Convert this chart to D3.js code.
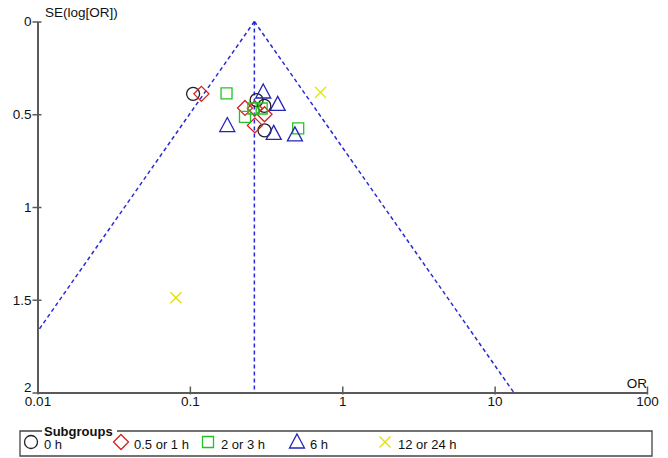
<!DOCTYPE html>
<html>
<head>
<meta charset="utf-8">
<script src="https://cdn.jsdelivr.net/npm/d3@7"></script>
<style>
  html, body { margin: 0; padding: 0; background: #fff; }
  svg { display: block; font-family: "Liberation Sans", Arial, sans-serif; }
</style>
</head>
<body>
<svg id="chart" width="668" height="458"></svg>
<script>
// Funnel plot: odds ratios by subgroup against SE(log[OR])
const pooledOR = 0.265;

const subgroupNames = ["0 h", "0.5 or 1 h", "2 or 3 h", "6 h", "12 or 24 h"];

const orH0   = [0.105, 0.274, 0.308, 0.309];
const seH0   = [0.390, 0.424, 0.455, 0.587];

const orH05  = [0.119, 0.230, 0.267, 0.309, 0.267];
const seH05  = [0.390, 0.466, 0.469, 0.500, 0.560];

const orH2   = [0.174, 0.261, 0.296, 0.230, 0.514];
const seH2   = [0.387, 0.469, 0.469, 0.514, 0.576];

const orH6   = [0.303, 0.377, 0.176, 0.355, 0.489];
const seH6   = [0.380, 0.447, 0.561, 0.603, 0.611];

const orH12  = [0.720, 0.081];
const seH12  = [0.382, 1.489];

const xTickValues = [0.01, 0.1, 1, 10, 100];
const xTickLabels = ["0.01", "0.1", "1", "10", "100"];
const yTickValues = [0, 0.5, 1, 1.5, 2];
const yTickLabels = ["0", "0.5", "1", "1.5", "2"];

const groups = [
  { name: subgroupNames[0], or: orH0,  se: seH0,  shape: "circle",   color: "#222222" },
  { name: subgroupNames[1], or: orH05, se: seH05, shape: "diamond",  color: "#d42020" },
  { name: subgroupNames[2], or: orH2,  se: seH2,  shape: "square",   color: "#22c322" },
  { name: subgroupNames[3], or: orH6,  se: seH6,  shape: "triangle", color: "#2424b8" },
  { name: subgroupNames[4], or: orH12, se: seH12, shape: "cross",    color: "#e0e000" }
];

const svg = d3.select("#chart");

const x = d3.scaleLog().domain([0.01, 100]).range([37.5, 647]);
const y = d3.scaleLinear().domain([0, 2]).range([21.5, 392.5]);

const axisColor = "#5a5a5a";
const fontSize = 13.5;

// marker path generators, centred on 0,0
function markerPath(shape) {
  switch (shape) {
    case "circle":   return "M6.5,0A6.5,6.5 0 1,1 -6.5,0A6.5,6.5 0 1,1 6.5,0Z";
    case "diamond":  return "M0,-7.5L7.5,0L0,7.5L-7.5,0Z";
    case "square":   return "M-5.5,-5.5L5.5,-5.5L5.5,5.5L-5.5,5.5Z";
    case "triangle": return "M0,-8L7.5,6L-7.5,6Z";
    case "cross":    return "M-5.5,-5.5L5.5,5.5M-5.5,5.5L5.5,-5.5";
  }
}

// funnel limits (95%) around the pooled estimate
const z = 1.96;
const seMax = 2;
const leftSE = Math.min(seMax, Math.log(pooledOR / 0.01) / z);
const funnel = svg.append("g")
  .attr("fill", "none")
  .attr("stroke", "#2a2ad8")
  .attr("stroke-width", 1.5)
  .attr("stroke-dasharray", "4,3");

const line = d3.line().x(d => x(d[0])).y(d => y(d[1]));
funnel.append("path").attr("d", line([[pooledOR, 0], [pooledOR * Math.exp(-z * leftSE), leftSE]]));
funnel.append("path").attr("d", line([[pooledOR, 0], [pooledOR * Math.exp(z * seMax), seMax]]));
funnel.append("path").attr("d", line([[pooledOR, 0], [pooledOR, seMax]]));

// axes
const yAxis = d3.axisLeft(y)
  .tickValues(yTickValues)
  .tickFormat((d, i) => yTickLabels[i])
  .tickSizeInner(5).tickSizeOuter(0).tickPadding(2);
const gy = svg.append("g").attr("transform", `translate(${x(0.01)},0)`).call(yAxis);

const xAxis = d3.axisBottom(x)
  .tickValues(xTickValues)
  .tickFormat((d, i) => xTickLabels[i])
  .tickSizeInner(2).tickSizeOuter(0).tickPadding(3);
const gx = svg.append("g").attr("transform", `translate(0,${y(2)})`).call(xAxis);

[gx, gy].forEach(g => {
  g.select(".domain").attr("stroke", axisColor).attr("stroke-width", 2);
  g.selectAll(".tick line").attr("stroke", axisColor).attr("stroke-width", 1.5);
  g.selectAll(".tick text").attr("fill", "#111").attr("font-size", fontSize)
    .attr("font-family", "'Liberation Sans', Arial, sans-serif");
});
// y ticks cross the axis; x ticks rise above it
gy.selectAll(".tick line").attr("x1", 4).attr("x2", -5);
gy.selectAll(".tick text").attr("x", -6);
gy.selectAll(".tick").filter(d => d === 2).select("text").attr("dy", "-0.1em");
gx.selectAll(".tick line").attr("y1", -6).attr("y2", 2);
gx.selectAll(".tick text").attr("dy", "0.62em");

svg.append("text").attr("x", 45).attr("y", 17)
  .attr("font-size", fontSize).attr("fill", "#111").text("SE(log[OR])");
svg.append("text").attr("x", 647).attr("y", 388).attr("text-anchor", "end")
  .attr("font-size", fontSize).attr("fill", "#111").text("OR");

// study markers
groups.forEach(g => {
  const pts = g.or.map((v, i) => [v, g.se[i]]);
  svg.append("g").selectAll("path").data(pts).join("path")
    .attr("transform", d => `translate(${x(d[0])},${y(d[1])})`)
    .attr("d", markerPath(g.shape))
    .attr("fill", "none")
    .attr("stroke", g.color)
    .attr("stroke-width", 1.3);
});

// legend
const lg = svg.append("g");
const boxL = 20, boxR = 652, boxT = 431, boxB = 456;
const titleL = 42, titleR = 117;
lg.append("path")
  .attr("d", `M${titleL},${boxT}H${boxL}V${boxB}H${boxR}V${boxT}H${titleR}`)
  .attr("fill", "none").attr("stroke", "#444").attr("stroke-width", 1.3);
lg.append("text").attr("x", 44).attr("y", 435.5)
  .attr("font-size", 13).attr("font-weight", "bold").attr("fill", "#111").text("Subgroups");

const legendMarkX = [31, 121, 208, 297, 385];
groups.forEach((g, i) => {
  lg.append("path")
    .attr("transform", `translate(${legendMarkX[i]},442)`)
    .attr("d", markerPath(g.shape))
    .attr("fill", "none").attr("stroke", g.color).attr("stroke-width", 1.3);
  lg.append("text").attr("x", legendMarkX[i] + 13).attr("y", 449)
    .attr("font-size", 13).attr("fill", "#111").text(g.name);
});
</script>
</body>
</html>
